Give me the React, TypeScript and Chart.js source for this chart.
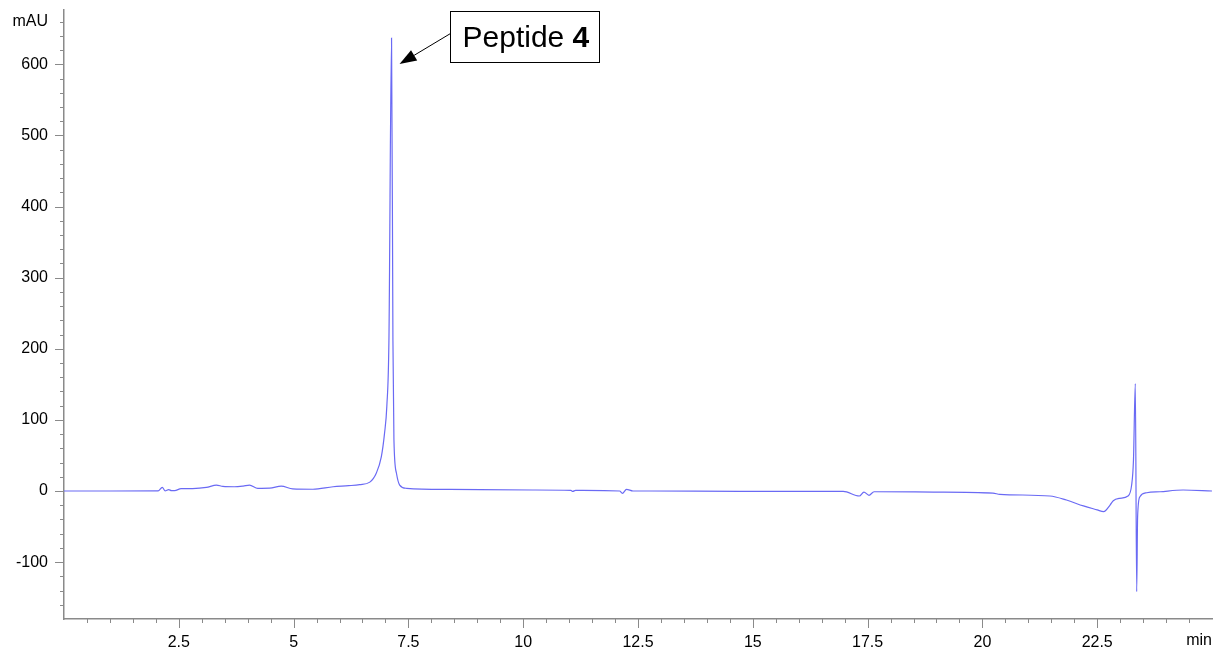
import React, { useEffect, useRef } from "react";
import { Chart, registerables } from "chart.js";

Chart.register(...registerables);

// Retention time (min)
const times = [
  0, 1.0, 2.05, 2.14, 2.2, 2.28, 2.34, 2.41, 2.55, 2.8, 3.1, 3.32, 3.46, 3.71, 3.9, 4.04, 4.22, 4.48,
  4.73, 4.98, 5.42, 5.86, 6.2, 6.44, 6.66, 6.8, 6.91, 6.98, 7.03, 7.076, 7.133, 7.163, 7.185, 7.24,
  7.31, 7.46, 8.4, 10.21, 11.04, 11.08, 11.14, 11.3, 12.1, 12.16, 12.25, 12.39, 12.76, 14.72, 16.46,
  16.97, 17.32, 17.42, 17.53, 17.64, 18.93, 20.23, 20.38, 21.47, 21.83, 22.2, 22.5, 22.64, 22.78,
  22.85, 22.99, 23.17, 23.25, 23.29, 23.33, 23.36, 23.38, 23.43, 23.58, 23.87, 24.37, 25,
];

// Absorbance (mAU)
const absorbance = [
  0, 0, 0.3, 5.2, 0.3, 2, 0.5, 0.5, 3.5, 3.5, 5, 8.4, 6.5, 6, 7, 8.4, 3.8, 4,
  7, 3, 2.5, 6, 7.5, 9, 12.5, 25, 48, 81, 119, 212, 637, 212, 72, 25,
  8.4, 3.8, 2.3, 1.4, 0.8, -0.5, 0.8, 0.8, 0, -3.3, 2.4, 0, 0, -0.5, -0.5,
  -0.5, -7, -1.5, -6, -1, -1.5, -3, -4.7, -7, -12.7, -21, -26.5, -29, -19.7,
  -13.6, -10.3, -7, 8.4, 43.6, 151, -141.6, -36, -8, -2.4, -1, 1.4, 0,
];

const xMin = 0;
const xMax = 25;
const xStep = 0.5;
const xLabelEvery = 2.5;
const yMin = -180;
const yMax = 676.5;
const yStep = 20;
const yLabelEvery = 100;
const yUnitTick = 660;
const yUnit = "mAU";
const xUnit = "min";
const peakLabel = "Peptide ";
const peakLabelBold = "4";

const FONT = '"Liberation Sans", Arial, Helvetica, sans-serif';
const AXIS_COLOR = "#8a8a8a";
const LINE_COLOR = "#6a6af4";

const isMultiple = (v: number, step: number) => Math.abs(v / step - Math.round(v / step)) < 1e-6;

const decorPlugin = {
  id: "decor",
  afterDraw(chart: any) {
    const ctx = chart.ctx as CanvasRenderingContext2D;
    const xs = chart.scales.x;
    const ys = chart.scales.y;
    const area = chart.chartArea;
    ctx.save();
    ctx.strokeStyle = AXIS_COLOR;
    ctx.lineWidth = 1;
    // y tick marks
    ys.ticks.forEach((t: any, i: number) => {
      if (t.value <= yMin || t.value >= yMax) return;
      const py = Math.round(ys.getPixelForTick(i)) + 0.5;
      const len = isMultiple(t.value, yLabelEvery) ? 9 : 4;
      ctx.beginPath();
      ctx.moveTo(area.left - len, py);
      ctx.lineTo(area.left, py);
      ctx.stroke();
    });
    // x tick marks
    xs.ticks.forEach((t: any, i: number) => {
      if (t.value <= xMin || t.value >= xMax) return;
      const px = Math.round(xs.getPixelForTick(i)) + 0.5;
      const len = isMultiple(t.value, xLabelEvery) ? 9 : 4;
      ctx.beginPath();
      ctx.moveTo(px, area.bottom);
      ctx.lineTo(px, area.bottom + len);
      ctx.stroke();
    });
    // x unit label
    ctx.fillStyle = "#000";
    ctx.font = `16px ${FONT}`;
    ctx.textAlign = "right";
    ctx.textBaseline = "top";
    ctx.fillText(xUnit, area.right, area.bottom + 14);

    // peak annotation
    let pk = 0;
    absorbance.forEach((v, i) => {
      if (v > absorbance[pk]) pk = i;
    });
    const px = xs.getPixelForValue(times[pk]);
    const py = ys.getPixelForValue(absorbance[pk]);
    const tipX = px + 8;
    const tipY = py + 26;
    const boxL = Math.round(px + 58) + 0.5;
    const boxT = Math.round(py - 27) + 0.5;
    const boxW = 149;
    const boxH = 51;
    ctx.strokeStyle = "#000";
    ctx.lineWidth = 1;
    ctx.strokeRect(boxL, boxT, boxW, boxH);
    const sx = boxL;
    const sy = boxT + 22;
    const ang = Math.atan2(tipY - sy, tipX - sx);
    const headLen = 17;
    const headHalf = 6;
    const bx = tipX - headLen * Math.cos(ang);
    const by = tipY - headLen * Math.sin(ang);
    ctx.beginPath();
    ctx.moveTo(sx, sy);
    ctx.lineTo(bx, by);
    ctx.stroke();
    ctx.fillStyle = "#000";
    ctx.beginPath();
    ctx.moveTo(tipX, tipY);
    ctx.lineTo(bx + headHalf * Math.sin(ang), by - headHalf * Math.cos(ang));
    ctx.lineTo(bx - headHalf * Math.sin(ang), by + headHalf * Math.cos(ang));
    ctx.closePath();
    ctx.fill();
    ctx.textAlign = "left";
    ctx.textBaseline = "alphabetic";
    ctx.font = `30px ${FONT}`;
    const tx = boxL + 12;
    const ty = boxT + 35.5;
    ctx.fillText(peakLabel, tx, ty);
    const w = ctx.measureText(peakLabel).width;
    ctx.font = `bold 30px ${FONT}`;
    ctx.fillText(peakLabelBold, tx + w, ty);
    ctx.restore();
  },
};

export default function App() {
  const ref = useRef<HTMLCanvasElement | null>(null);
  useEffect(() => {
    if (!ref.current) return;
    const chart = new Chart(ref.current, {
      type: "line",
      data: {
        datasets: [
          {
            data: times.map((t, i) => ({ x: t, y: absorbance[i] })),
            borderColor: LINE_COLOR,
            borderWidth: 1.2,
            pointRadius: 0,
            fill: false,
            cubicInterpolationMode: "monotone",
          },
        ],
      },
      options: {
        animation: false,
        responsive: false,
        maintainAspectRatio: false,
        layout: { padding: { top: 10, right: 7, left: 0, bottom: 0 } },
        plugins: { legend: { display: false }, tooltip: { enabled: false } },
        scales: {
          x: {
            type: "linear",
            min: xMin,
            max: xMax,
            afterFit: (s: any) => {
              s.height = 33;
              s.paddingLeft = 0;
              s.paddingRight = 0;
              s.paddingTop = 0;
              s.paddingBottom = 0;
            },
            afterBuildTicks: (s: any) => {
              s.ticks = s.ticks.filter((t: any) => isMultiple(t.value, xStep));
            },
            grid: { display: false, drawTicks: false },
            border: { display: true, color: AXIS_COLOR, width: 1.5 },
            ticks: {
              stepSize: xStep,
              includeBounds: false,
              autoSkip: false,
              maxRotation: 0,
              minRotation: 0,
              padding: 14,
              color: "#000",
              font: { family: FONT, size: 16 },
              callback: (v: any) => {
                const n = Number(v);
                if (n <= xMin || n >= xMax) return "";
                return isMultiple(n, xLabelEvery) ? String(Math.round(n * 10) / 10) : "";
              },
            },
          },
          y: {
            type: "linear",
            min: yMin,
            max: yMax,
            afterFit: (s: any) => {
              s.width = 64;
              s.paddingLeft = 0;
              s.paddingRight = 0;
              s.paddingTop = 0;
              s.paddingBottom = 0;
            },
            afterBuildTicks: (s: any) => {
              s.ticks = s.ticks.filter((t: any) => isMultiple(t.value, yStep));
            },
            grid: { display: false, drawTicks: false },
            border: { display: true, color: AXIS_COLOR, width: 1.5 },
            ticks: {
              stepSize: yStep,
              includeBounds: false,
              autoSkip: false,
              padding: 16,
              color: "#000",
              font: { family: FONT, size: 16 },
              callback: (v: any) => {
                const n = Number(v);
                if (Math.abs(n - yUnitTick) < 1e-6) return yUnit;
                if (n <= yMin) return "";
                return isMultiple(n, yLabelEvery) ? String(Math.round(n)) : "";
              },
            },
          },
        },
      },
      plugins: [decorPlugin],
    });
    return () => chart.destroy();
  }, []);
  return (
    <div style={{ position: "absolute", left: 0, top: 0, width: 1219, height: 652, background: "#fff" }}>
      <canvas ref={ref} width={1219} height={652} style={{ display: "block", width: 1219, height: 652 }} />
    </div>
  );
}
